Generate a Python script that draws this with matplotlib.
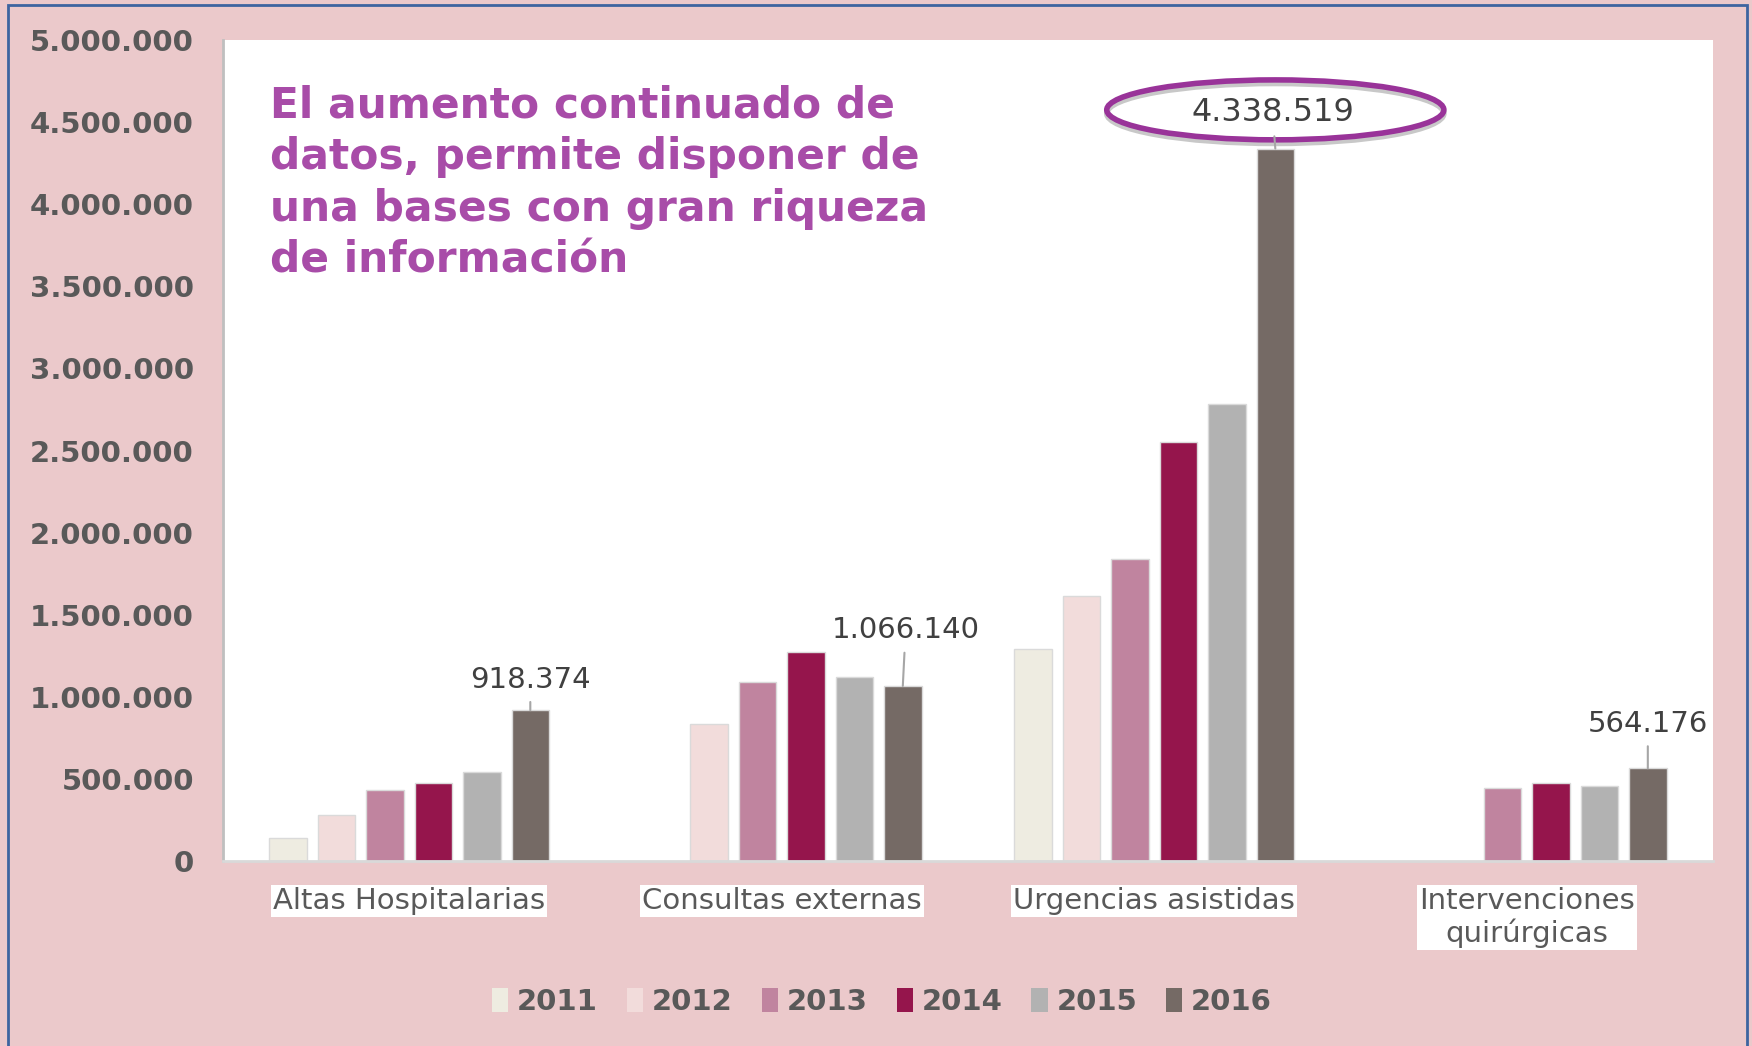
import matplotlib.pyplot as plt
from matplotlib.patches import Ellipse, Rectangle
from matplotlib.ticker import FuncFormatter
import numpy as np

categories = ['Altas Hospitalarias', 'Consultas externas', 'Urgencias asistidas',
              'Intervenciones\nquirúrgicas']
years = ['2011', '2012', '2013', '2014', '2015', '2016']
v2011 = [140000, np.nan, 1293000, np.nan]
v2012 = [280000, 833000, 1612000, np.nan]
v2013 = [430000, 1092000, 1837000, 445000]
v2014 = [475000, 1271000, 2552000, 472000]
v2015 = [545000, 1122000, 2781000, 458000]
v2016 = [918374, 1066140, 4338519, 564176]
series = [v2011, v2012, v2013, v2014, v2015, v2016]
colors = ['#EEECE1', '#F2DCDB', '#C0849F', '#95154C', '#B2B2B2', '#756A65']

W, H = 1752, 1046
fig = plt.figure(figsize=(W / 100, H / 100), dpi=100)
fig.patch.set_facecolor('#EBC9CB')

# blue frame round the slide
fig.patches.append(Rectangle((8 / W, -0.01), (1747 - 8) / W, 1 - 5 / H + 0.01,
                             transform=fig.transFigure, fill=False,
                             edgecolor='#3D64A0', lw=2))

ax = fig.add_axes([223 / W, 1 - 861 / H, 1490 / W, 821 / H])
ax.set_facecolor('white')

x = np.arange(len(categories))
pitch, width = 0.13, 0.101
for i, (vals, c, yr) in enumerate(zip(series, colors, years)):
    ax.bar(x + (i - 2.5) * pitch, vals, width, color=c, edgecolor='#DADADA',
           linewidth=1, label=yr, zorder=2)

ax.set_xlim(-0.5, 3.5)
ax.set_ylim(0, 5000000)
ax.set_yticks(np.arange(0, 5000001, 500000))
ax.yaxis.set_major_formatter(FuncFormatter(lambda v, p: f'{int(v):,}'.replace(',', '.')))
ax.tick_params(axis='y', length=0, pad=21, labelsize=21, labelcolor='#595959')
for t in ax.get_yticklabels():
    t.set_fontweight('bold')

ax.set_xticks(x)
ax.set_xticklabels(categories, fontsize=21, color='#595959', va='top',
                   linespacing=1.15)
ax.tick_params(axis='x', length=0, pad=19)
for t in ax.get_xticklabels():
    t.set_bbox(dict(facecolor='white', edgecolor='none', pad=1.5))

for s in ['top', 'right']:
    ax.spines[s].set_visible(False)
ax.spines['left'].set_color('#BFBFBF')
ax.spines['left'].set_linewidth(2)
ax.spines['bottom'].set_color('#D9D9D9')
ax.spines['bottom'].set_linewidth(2)

# data labels for 2016
xs16 = x + 2.5 * pitch
offsets = [(0, 22), (2, 40), (-2, 26), (0, 32)]
sizes = [21, 21, 23, 21]
for xi, v, off, fs in zip(xs16, v2016, offsets, sizes):
    lbl = f'{v:,}'.replace(',', '.')
    ax.annotate(lbl, xy=(xi, v), xytext=off, textcoords='offset points',
                ha='center', va='center', fontsize=fs, color='#404040',
                arrowprops=dict(arrowstyle='-', color='#A6A6A6', lw=1.5,
                                shrinkA=4, shrinkB=0), zorder=4)

# highlight ellipse round the biggest value
ecx, ecy = xs16[2], v2016[2] + 236000
ax.add_patch(Ellipse((ecx, ecy - 22000), 0.905, 365000, fill=False,
                     edgecolor='#C8C8C8', lw=4, zorder=3))
ax.add_patch(Ellipse((ecx, ecy), 0.905, 365000, fill=False,
                     edgecolor='#993399', lw=4, zorder=3))

fig.text(270 / W, 1 - 84 / H,
         'El aumento continuado de\ndatos, permite disponer de\n'
         'una bases con gran riqueza\nde información',
         fontsize=30.5, fontweight='bold', color='#A84CA8', va='top', ha='left',
         linespacing=1.3)

leg = fig.legend(loc='center', bbox_to_anchor=(882 / W, 1 - 1002 / H), ncol=6,
                 frameon=False, prop={'size': 21, 'weight': 'bold'},
                 handlelength=0.55, handleheight=0.9, handletextpad=0.3,
                 columnspacing=1.0, labelcolor='#595959')
for h in leg.legend_handles:
    h.set_edgecolor('none')

fig.savefig('out.png', dpi=100, facecolor=fig.get_facecolor())
